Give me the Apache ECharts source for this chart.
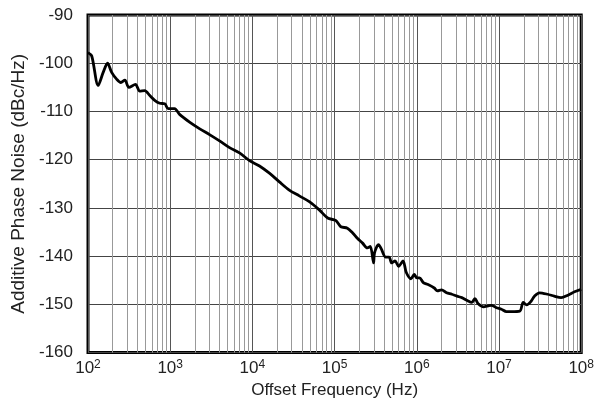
<!DOCTYPE html>
<html>
<head>
<meta charset="UTF-8">
<title>Additive Phase Noise</title>
<script src="https://cdn.jsdelivr.net/npm/echarts@6/dist/echarts.min.js"></script>
<style>
  body { margin: 0; background: #fff; }
  #chart { width: 597px; height: 404px; }
</style>
</head>
<body>
<div id="chart"></div>
<script>
// offset frequency (Hz) and phase noise (dBc/Hz)
var freq = [100, 111, 133, 153, 173, 194, 223, 251, 281, 314, 378, 426, 490, 565, 648, 746, 860, 941, 1130,
  1300, 1720, 2290, 3010, 3980, 5270, 6970, 9220, 12200, 16100, 21300, 28100, 37200, 49200, 65100, 82300,
  103000, 119000, 143000, 166000, 189000, 219000, 250000, 272000, 298000, 306000, 343000, 370000, 418000,
  460000, 495000, 545000, 600000, 680000, 745000, 850000, 930000, 1000000, 1080000, 1200000, 1370000,
  1630000, 1780000, 2000000, 2300000, 2670000, 3080000, 3530000, 4100000, 4670000, 5100000, 5550000,
  6500000, 7400000, 8100000, 9300000, 10700000, 12300000, 14100000, 17900000, 19700000, 21700000,
  24700000, 27000000, 31000000, 39000000, 47000000, 57000000, 69000000, 83000000, 100000000];
var noise = [-97.8, -98.5, -104.6, -101.9, -100.0, -101.9, -103.3, -104.0, -103.5, -105.0, -104.4, -105.8, -105.7, -106.7, -107.7, -108.3, -108.4, -109.4, -109.4,
  -110.6, -112.2, -113.6, -114.8, -116.1, -117.5, -118.6, -120.2, -121.3, -122.8, -124.6, -126.3, -127.5, -128.7, -130.4, -132.1,
  -132.6, -133.9, -134.2, -135.2, -136.3, -137.3, -138.3, -138.0, -141.4, -139.3, -137.6, -138.5, -140.2,
  -140.2, -141.4, -141.0, -142.1, -141.0, -143.4, -144.7, -143.8, -144.5, -144.5, -145.5, -145.9,
  -146.6, -147.2, -147.0, -147.6, -147.9, -148.3, -148.6, -149.2, -149.6, -148.8, -149.8,
  -150.5, -150.3, -150.2, -150.7, -151.0, -151.5, -151.5, -151.4, -149.6, -150.1,
  -149.3, -148.3, -147.6, -147.9, -148.3, -148.6, -148.1, -147.4, -146.9];
var yTicks = [-160, -150, -140, -130, -120, -110, -100, -90];

var points = freq.map(function (f, i) { return [f, noise[i]]; });

// minor vertical grid at 2..9 x each decade
var minorLines = [];
for (var d = 2; d < 8; d++) {
  for (var m = 2; m <= 9; m++) {
    minorLines.push({ xAxis: m * Math.pow(10, d) });
  }
}

var chart = echarts.init(document.getElementById('chart'), null, { renderer: 'canvas' });
chart.setOption({
  animation: false,
  backgroundColor: '#fff',
  textStyle: { fontFamily: 'Liberation Sans, Arial, sans-serif' },
  grid: {
    left: 88, right: 14, top: 15, bottom: 50,
    show: true, borderColor: '#000', borderWidth: 3, backgroundColor: 'transparent'
  },
  xAxis: {
    type: 'log',
    logBase: 10,
    min: 100,
    max: 100000000,
    name: 'Offset Frequency (Hz)',
    nameLocation: 'middle',
    nameGap: 22,
    nameTextStyle: { fontSize: 17, color: '#222' },
    axisLine: { show: false },
    axisTick: { show: false },
    splitLine: { show: true, lineStyle: { color: '#555', width: 1 } },
    axisLabel: {
      margin: 6,
      color: '#222',
      formatter: function (v) {
        var e = Math.round(Math.log10(v));
        return '{b|10}{s|' + e + '}';
      },
      rich: {
        b: { fontSize: 17, color: '#222', lineHeight: 20 },
        s: { fontSize: 12, color: '#222', verticalAlign: 'top', lineHeight: 20, padding: [0, 0, 6, 0] }
      }
    }
  },
  yAxis: {
    type: 'value',
    min: yTicks[0],
    max: yTicks[yTicks.length - 1],
    interval: 10,
    name: 'Additive Phase Noise (dBc/Hz)',
    nameLocation: 'middle',
    nameGap: 57,
    nameTextStyle: { fontSize: 19, color: '#222' },
    axisLine: { show: false },
    axisTick: { show: false },
    splitLine: { show: true, lineStyle: { color: '#444', width: 1 } },
    axisLabel: { fontSize: 17, color: '#222', margin: 15 }
  },
  series: [
    {
      type: 'line',
      data: [],
      z: 1,
      silent: true,
      markLine: {
        silent: true,
        symbol: ['none', 'none'],
        label: { show: false },
        lineStyle: { color: '#999', width: 1, type: 'solid' },
        data: minorLines
      }
    },
    {
      type: 'line',
      data: points,
      z: 5,
      showSymbol: false,
      smooth: 0.3,
      lineStyle: { color: '#000', width: 2.8 }
    }
  ]
});
</script>
</body>
</html>
